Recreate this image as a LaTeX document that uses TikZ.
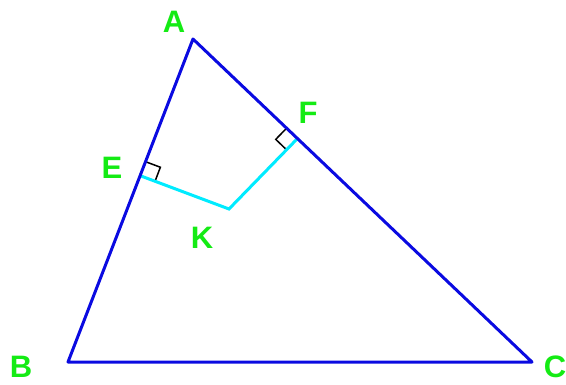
\documentclass[tikz,border=0pt]{standalone}
\usepackage{fontspec}
\setsansfont{Liberation Sans}
\usetikzlibrary{calc}
\definecolor{sideblue}{RGB}{10,10,225}
\definecolor{perpcyan}{RGB}{0,235,255}
\definecolor{lblgreen}{RGB}{20,235,20}
\begin{document}
\begin{tikzpicture}[
        x=1pt, y=-1pt,
        side/.style={draw=sideblue, line width=3pt, line join=round},
        perp/.style={draw=perpcyan, line width=3pt},
        rightmark/.style={draw=black, line width=1.5pt},
        lbl/.style={text=lblgreen, font=\sffamily\bfseries\fontsize{31}{31}\selectfont, inner sep=0pt}
    ]
    \useasboundingbox (0,0) rectangle (566,384);
    \coordinate (A) at (193,39);
    \coordinate (B) at (68,362);
    \coordinate (C) at (532,362);
    \coordinate (E) at (141,176);
    \coordinate (F) at (297,139);
    \coordinate (K) at (229,209);

    \node[lbl] (lA) at (174,22)  {A};
    \node[lbl] (lB) at (21,367)  {B};
    \node[lbl] (lC) at (555,367) {C};
    \node[lbl] (lE) at (112,168) {E};
    \node[lbl] (lF) at (308,113) {F};
    \node[lbl] (lK) at (202,238) {K};

    % right angles
    \coordinate (e1) at ($(E)!15pt!(A)$);
    \coordinate (e2) at ($(E)!15pt!(K)$);
    \coordinate (f1) at ($(F)!15pt!(A)$);
    \coordinate (f2) at ($(F)!15pt!(K)$);
    \draw[rightmark] (e1) -- ($(e1)+(e2)-(E)$) -- (e2);
    \draw[rightmark] (f1) -- ($(f1)+(f2)-(F)$) -- (f2);

    \draw[perp] (E) -- (K) -- (F);
    \draw[side] (A) -- (B) -- (C) -- cycle;
    \end{tikzpicture}
\end{document}
